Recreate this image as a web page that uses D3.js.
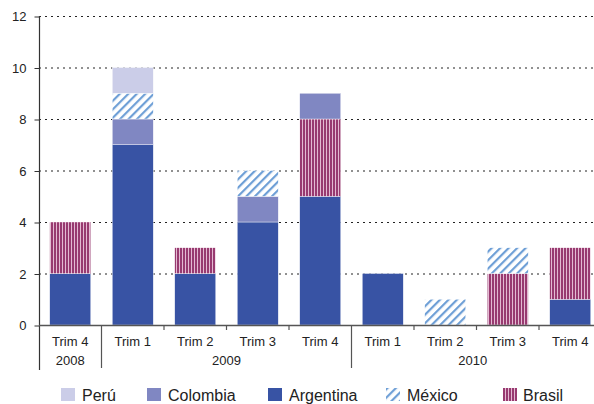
<!DOCTYPE html>
<html><head><meta charset="utf-8">
<script src="https://cdn.jsdelivr.net/npm/d3@7"></script>
<style>
html,body{margin:0;padding:0;background:#fff;}
svg{display:block;font-family:"Liberation Sans",Arial,sans-serif;}
</style></head>
<body>
<svg id="chart" width="594" height="404"></svg>
<script>
const categories = ["Trim 4","Trim 1","Trim 2","Trim 3","Trim 4","Trim 1","Trim 2","Trim 3","Trim 4"];
const years = ["2008","2009","2009","2009","2009","2010","2010","2010","2010"];
const argentina = [2,7,2,4,5,2,0,0,1];
const brasil    = [2,0,1,0,3,0,0,2,2];
const colombia  = [0,1,0,1,1,0,0,0,0];
const mexico    = [0,1,0,1,0,0,1,1,0];
const peru      = [0,1,0,0,0,0,0,0,0];
const yTicks = [0,2,4,6,8,10,12];
const seriesNames = ["Argentina","Brasil","Colombia","México","Perú"];
const legendOrder = ["Perú","Colombia","Argentina","México","Brasil"];

const svg = d3.select("#chart");
const W = 594;
const defs = svg.append("defs");
// Brasil vertical stripes
const pb = defs.append("pattern").attr("id","pBrasil").attr("patternUnits","userSpaceOnUse")
  .attr("width",3).attr("height",10);
pb.append("rect").attr("width",3).attr("height",10).attr("fill","#E3BAD2");
pb.append("rect").attr("width",2).attr("height",10).attr("fill","#983A70");
// México diagonal hatch
const pm = defs.append("pattern").attr("id","pMexico").attr("patternUnits","userSpaceOnUse")
  .attr("width",6).attr("height",6).attr("patternTransform","rotate(45)");
pm.append("rect").attr("width",6).attr("height",6).attr("fill","#fff");
pm.append("rect").attr("width",2.2).attr("height",6).attr("fill","#6E9FD6");

const fills = {
  "Argentina":"#3853A4",
  "Brasil":"url(#pBrasil)",
  "Colombia":"#8087C2",
  "México":"url(#pMexico)",
  "Perú":"#CBCDE8"
};

const table = categories.map((c,i)=>({i:i, "Argentina":argentina[i], "Brasil":brasil[i], "Colombia":colombia[i], "México":mexico[i], "Perú":peru[i]}));
const stacked = d3.stack().keys(seriesNames)(table);

const x0 = 39, step = 62.5;
const x = d3.scaleBand().domain(d3.range(categories.length))
  .range([x0, x0 + step*categories.length]).paddingInner(0.344).paddingOuter(0.172);
const y = d3.scaleLinear().domain([0,12]).range([325,16]);

// gridlines
svg.append("g").selectAll("line").data(yTicks.filter(t=>t>0)).join("line")
  .attr("x1",x0).attr("x2",W).attr("y1",d=>y(d)+0.5).attr("y2",d=>y(d)+0.5)
  .attr("stroke","#222").attr("stroke-width",1).attr("stroke-dasharray","2,4");

// bars
svg.append("g").selectAll("g").data(stacked).join("g")
  .attr("fill",d=>fills[d.key])
  .selectAll("rect").data(d=>d.filter(s=>s[1]-s[0]>0)).join("rect")
  .attr("x",d=>x(d.data.i)).attr("width",x.bandwidth())
  .attr("y",d=>y(d[1])).attr("height",d=>y(d[0])-y(d[1]))
  .attr("stroke","#fff").attr("stroke-width",0.4);

// y axis
const yAxis = d3.axisLeft(y).tickValues(yTicks).tickSize(5).tickPadding(8);
const ga = svg.append("g").attr("transform",`translate(${x0+0.5},0.5)`).call(yAxis);
ga.select(".domain").remove();
ga.selectAll("line").attr("stroke","#333");
ga.selectAll("text").attr("font-size",13).attr("fill","#222")
  .attr("font-family","Liberation Sans, Arial, sans-serif");
svg.append("line").attr("x1",x0+0.5).attr("x2",x0+0.5).attr("y1",16).attr("y2",370)
  .attr("stroke","#333").attr("stroke-width",1.2);
// x axis line
svg.append("line").attr("x1",x0).attr("x2",W).attr("y1",325.5).attr("y2",325.5)
  .attr("stroke","#555").attr("stroke-width",1.5);

// category boundary ticks
const bounds = d3.range(1,categories.length+1).map(i=>x0+step*i);
svg.append("g").selectAll("line").data(d3.range(1,categories.length)).join("line")
  .attr("x1",i=>x0+step*i).attr("x2",i=>x0+step*i)
  .attr("y1",325).attr("y2",i=>years[i]!==years[i-1]?368:330)
  .attr("stroke","#555").attr("stroke-width",1.2);

// category labels
svg.append("g").selectAll("text").data(categories).join("text")
  .attr("x",(d,i)=>x(i)+x.bandwidth()/2).attr("y",346)
  .attr("text-anchor","middle").attr("font-size",13).attr("fill","#222").text(d=>d);

// year labels
const groups = [];
years.forEach((yr,i)=>{
  if(!groups.length || groups[groups.length-1].yr!==yr) groups.push({yr:yr,s:i,e:i});
  else groups[groups.length-1].e=i;
});
svg.append("g").selectAll("text").data(groups).join("text")
  .attr("x",g=>{const a=x0+step*g.s, b=Math.min(W,x0+step*(g.e+1)); return (a+b)/2;})
  .attr("y",365).attr("text-anchor","middle").attr("font-size",13).attr("fill","#222")
  .text(g=>g.yr);

// legend
const legX = {"Perú":61,"Colombia":147,"Argentina":268,"México":386,"Brasil":503};
const lg = svg.append("g").selectAll("g").data(legendOrder).join("g")
  .attr("transform",d=>`translate(${legX[d]},388)`);
lg.append("rect").attr("width",14).attr("height",13).attr("fill",d=>fills[d]);
lg.append("text").attr("x",d=>d==="Brasil"?20:21).attr("y",13).attr("font-size",16).attr("fill","#222").text(d=>d);
</script>
</body></html>
